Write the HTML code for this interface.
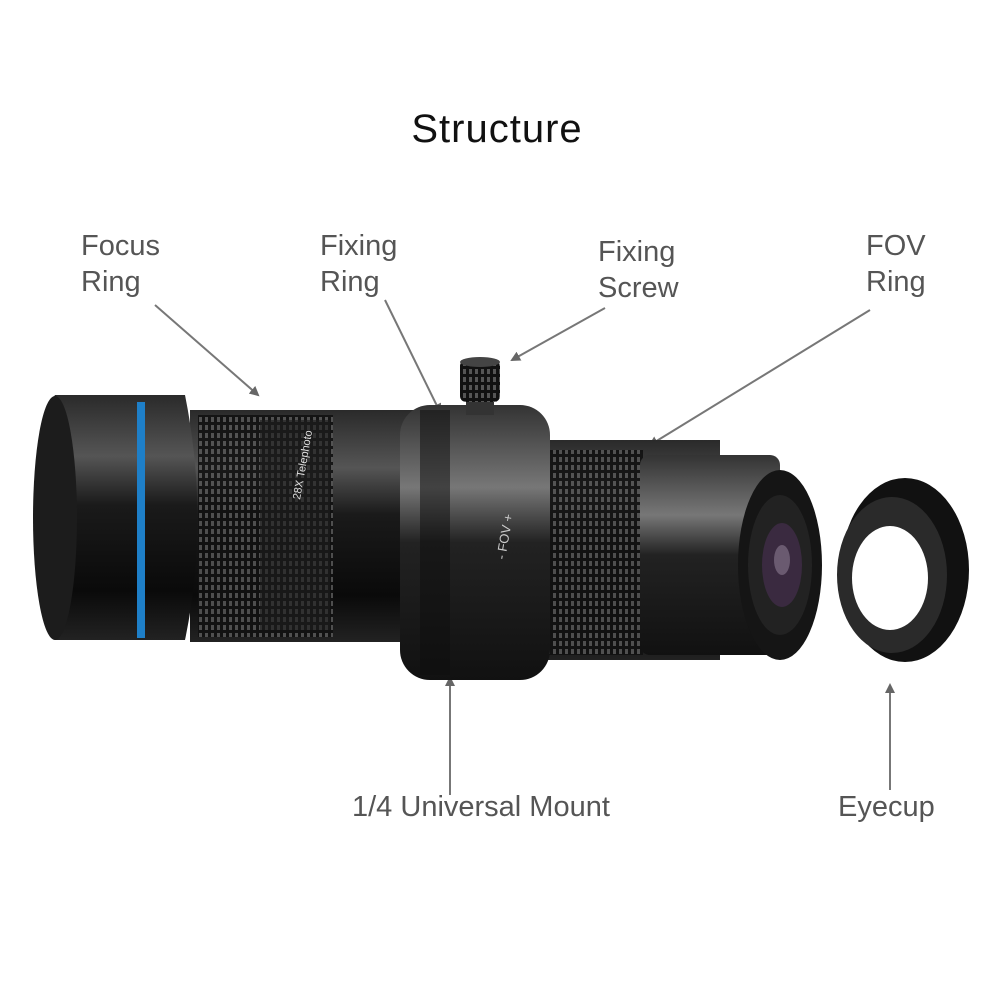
<!DOCTYPE html>
<html><head><meta charset="utf-8"><style>
html,body{margin:0;padding:0;background:#fff;}
svg{display:block}
text{font-family:"Liberation Sans",sans-serif;}
</style></head><body>
<svg width="1000" height="1000" viewBox="0 0 1000 1000" xmlns="http://www.w3.org/2000/svg">
<defs>
<linearGradient id="g1" x1="0" y1="0" x2="0" y2="1">
<stop offset="0" stop-color="#2a2a2a"/><stop offset="0.25" stop-color="#555"/><stop offset="0.45" stop-color="#1a1a1a"/><stop offset="0.8" stop-color="#0a0a0a"/><stop offset="1" stop-color="#222"/>
</linearGradient>
<linearGradient id="g2" x1="0" y1="0" x2="0" y2="1">
<stop offset="0" stop-color="#333"/><stop offset="0.3" stop-color="#777"/><stop offset="0.5" stop-color="#222"/><stop offset="1" stop-color="#111"/>
</linearGradient>
<pattern id="knurl" width="6" height="8" patternUnits="userSpaceOnUse">
<rect width="6" height="8" fill="#111"/><rect x="1" y="1" width="3" height="5" fill="#555"/>
</pattern>
<marker id="ah" markerWidth="10" markerHeight="10" refX="8" refY="5" orient="auto" markerUnits="userSpaceOnUse">
<path d="M0,0 L10,5 L0,10 z" fill="#666"/>
</marker>
</defs>

<text x="497" y="142" font-size="40" letter-spacing="1" text-anchor="middle" fill="#111">Structure</text>

<g font-size="29" fill="#555">
<text x="81" y="255">Focus</text><text x="81" y="291">Ring</text>
<text x="320" y="255">Fixing</text><text x="320" y="291">Ring</text>
<text x="598" y="261">Fixing</text><text x="598" y="297">Screw</text>
<text x="866" y="255">FOV</text><text x="866" y="291">Ring</text>
<text x="352" y="816">1/4 Universal Mount</text>
<text x="838" y="816">Eyecup</text>
</g>

<g stroke="#777" stroke-width="2" fill="none" marker-end="url(#ah)">
<line x1="155" y1="305" x2="258" y2="395"/>
<line x1="385" y1="300" x2="440" y2="412"/>
<line x1="605" y1="308" x2="512" y2="360"/>
<line x1="870" y1="310" x2="650" y2="445"/>
<line x1="450" y1="795" x2="450" y2="678"/>
<line x1="890" y1="790" x2="890" y2="685"/>
</g>

<rect x="480" y="440" width="240" height="220" fill="url(#g1)"/>
<rect x="528" y="450" width="115" height="205" fill="url(#knurl)" opacity="0.9"/>
<rect x="640" y="455" width="140" height="200" rx="10" fill="url(#g2)"/>
<ellipse cx="780" cy="565" rx="42" ry="95" fill="#151515"/>
<ellipse cx="780" cy="565" rx="32" ry="70" fill="#222"/>
<ellipse cx="782" cy="565" rx="20" ry="42" fill="#3a2a40"/>
<ellipse cx="782" cy="560" rx="8" ry="15" fill="#6a5a70"/>

<rect x="190" y="410" width="240" height="232" fill="url(#g1)"/>
<rect x="198" y="415" width="135" height="222" fill="url(#knurl)" opacity="0.9"/>
<rect x="260" y="420" width="70" height="210" fill="#1e1e1e" opacity="0.6"/>
<text x="300" y="500" font-size="11" fill="#ddd" transform="rotate(-80 300 500)">28X Telephoto</text>

<path d="M55,395 Q30,430 40,520 Q30,610 55,640 L185,640 Q210,520 185,395 Z" fill="url(#g1)"/>
<ellipse cx="55" cy="518" rx="22" ry="122" fill="#1c1c1c"/>
<rect x="137" y="402" width="8" height="236" fill="#1e7fc8"/>

<rect x="400" y="405" width="150" height="275" rx="30" fill="url(#g2)"/>
<rect x="420" y="410" width="30" height="265" fill="#0d0d0d" opacity="0.5"/>
<text x="505" y="560" font-size="13" fill="#ccc" transform="rotate(-80 505 560)">- FOV +</text>

<rect x="466" y="395" width="28" height="20" fill="#333"/>
<rect x="460" y="360" width="40" height="42" rx="6" fill="url(#knurl)"/>
<ellipse cx="480" cy="362" rx="20" ry="5" fill="#444"/>

<ellipse cx="905" cy="570" rx="64" ry="92" fill="#111"/>
<ellipse cx="892" cy="575" rx="55" ry="78" fill="#2a2a2a"/>
<ellipse cx="890" cy="578" rx="38" ry="52" fill="#fff"/>
</svg>
</body></html>
